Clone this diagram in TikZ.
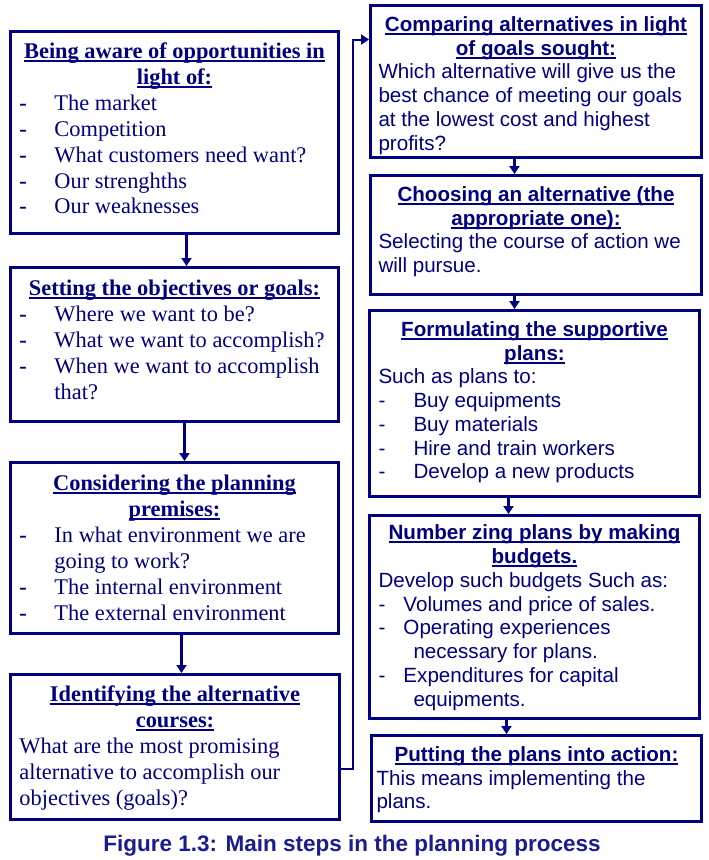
\documentclass[tikz,border=0pt]{standalone}
\usepackage{fontspec}
\setmainfont{Liberation Serif}
\setsansfont{Liberation Sans}
\usetikzlibrary{arrows.meta}
\definecolor{navy}{RGB}{0,0,128}
\definecolor{capblue}{RGB}{28,28,145}
\newsavebox\ulbox
\newcommand\ulx[1]{\sbox\ulbox{#1}\rlap{\rule[-3.3pt]{\wd\ulbox}{1.6pt}}\usebox\ulbox}
\newcommand\hd[1]{\makebox[\linewidth]{\ulx{\bfseries #1}}}
\newcommand\itm[2][35pt]{\makebox[#1][l]{\textbf{-}}#2}
\newcommand\ritm[2][35pt]{\makebox[#1][l]{-}#2}
\newcommand\ind[2][35pt]{\hspace*{#1}#2}
\newcommand\lfont{\rmfamily\fontsize{22.4}{25.9}\selectfont}
\newcommand\rfont{\sffamily\fontsize{20.6}{23.7}\selectfont}
\begin{document}
\begin{tikzpicture}[x=1pt,y=-1pt,
  box/.style={draw=navy, line width=3pt, inner ysep=0pt, anchor=north west, text=navy},
  arr/.style={draw=navy, line width=2.5pt, -{Triangle[width=10pt,length=8pt]}},
  conn/.style={draw=navy, line width=2pt, -{Triangle[width=10pt,length=8pt]}}]
\useasboundingbox (0,0) rectangle (709,860);

% left column
\node[box, inner xsep=9pt] (b1) at (9,30) {\parbox[c][202pt][t]{310pt}{\lfont\raggedright
\rule{0pt}{27pt}\hd{Being aware of opportunities in}\\
\hd{light of:}\\
\itm{The market}\\
\itm{Competition}\\
\itm{What customers need want?}\\
\itm{Our strenghths}\\
\itm{Our weaknesses}}};

\node[box, inner xsep=9pt] (b2) at (9,266) {\parbox[c][154pt][t]{310pt}{\lfont\raggedright
\rule{0pt}{28pt}\hd{Setting the objectives or goals:}\\
\itm{Where we want to be?}\\
\itm{What we want to accomplish?}\\
\itm{When we want to accomplish}\\
\ind{that?}}};

\node[box, inner xsep=9pt] (b3) at (9,461) {\parbox[c][171pt][t]{310pt}{\lfont\raggedright
\rule{0pt}{28pt}\hd{Considering the planning}\\
\hd{premises:}\\
\itm{In what environment we are}\\
\ind{going to work?}\\
\itm{The internal environment}\\
\itm{The external environment}}};

\node[box, inner xsep=9pt] (b4) at (9,673) {\parbox[c][145pt][t]{311pt}{\lfont\raggedright
\rule{0pt}{27pt}\hd{Identifying the alternative}\\
\hd{courses:}\\
What are the most promising\\
alternative to accomplish our\\
objectives (goals)?}};

% right column
\node[box, inner xsep=8pt] (b5) at (369,4) {\parbox[c][152pt][t]{315pt}{\rfont\raggedright
\rule{0pt}{26pt}\hd{Comparing alternatives in light}\\
\hd{of goals sought:}\\
Which alternative will give us the\\
best chance of meeting our goals\\
at the lowest cost and highest\\
profits?}};

\node[box, inner xsep=8pt] (b6) at (369,174) {\parbox[c][119pt][t]{315pt}{\rfont\raggedright
\rule{0pt}{26pt}\hd{Choosing an alternative (the}\\
\hd{appropriate one):}\\
Selecting the course of action we\\
will pursue.}};

\node[box, inner xsep=9pt] (b7) at (368,309) {\parbox[c][186pt][t]{312pt}{\rfont\raggedright
\rule{0pt}{26pt}\hd{Formulating the supportive}\\
\hd{plans:}\\
Such as plans to:\\
\ritm{Buy equipments}\\
\ritm{Buy materials}\\
\ritm{Hire and train workers}\\
\ritm{Develop a new products}}};

\node[box, inner xsep=9pt] (b8) at (368,514) {\parbox[c][203pt][t]{312pt}{\rfont\fontsize{20.6}{23.86}\selectfont\raggedright
\rule{0pt}{24pt}\hd{Number zing plans by making}\\
\hd{budgets.}\\
Develop such budgets Such as:\\
\ritm[25pt]{Volumes and price of sales.}\\
\ritm[25pt]{Operating experiences}\\
\ind{necessary for plans.}\\
\ritm[25pt]{Expenditures for capital}\\
\ind{equipments.}}};

\node[box, inner xsep=5pt] (b9) at (370,734) {\parbox[c][86pt][t]{320pt}{\rfont\raggedright
\rule{0pt}{26pt}\hd{Putting the plans into action:}\\
This means implementing the\\
plans.}};

% connectors
\draw[arr] ([xshift=12pt]b1.south) -- ([xshift=12pt]b1.south |- b2.north);
\draw[arr] ([xshift=10pt]b2.south) -- ([xshift=10pt]b2.south |- b3.north);
\draw[arr] ([xshift=7pt]b3.south) -- ([xshift=7pt]b3.south |- b4.north);
\draw[conn] ([yshift=-21.5pt]b4.east) -- ++(12,0) |- ([yshift=42pt]b5.west);
\draw[arr] ([xshift=-21.5pt]b5.south) -- ([xshift=-21.5pt]b5.south |- b6.north);
\draw[arr] ([xshift=-21.5pt]b6.south) -- ([xshift=-21.5pt]b6.south |- b7.north);
\draw[arr] ([xshift=-26pt]b7.south) -- ([xshift=-26pt]b7.south |- b8.north);
\draw[arr] ([xshift=-28pt]b8.south) -- ([xshift=-28pt]b8.south |- b9.north);

\node[anchor=base, text=capblue, font=\sffamily\bfseries\fontsize{22.5}{26}\selectfont] (cap) at (352,851) {Figure 1.3: Main steps in the planning process};
\end{tikzpicture}
\end{document}
